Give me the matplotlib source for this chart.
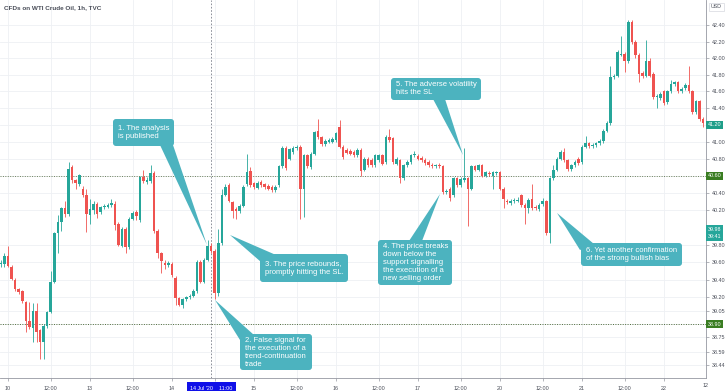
import numpy as np
import matplotlib
matplotlib.use('Agg')
import matplotlib.pyplot as plt
import matplotlib.transforms as mtransforms
from matplotlib.patches import FancyBboxPatch, Polygon
from matplotlib.ticker import FixedLocator, FixedFormatter, NullLocator

plt.rcParams['font.family'] = ['Liberation Sans', 'DejaVu Sans']

# WTI 1h candles, bar 0 = 10 Jul 00:00, 23 bars per trading day
bar_index = list(range(-2, 196))
opens = [39.58, 39.58, 39.67, 39.55, 39.40, 39.29, 39.27, 39.15, 38.93, 38.86,
         39.05, 38.83, 38.70, 38.88, 39.04, 39.38, 39.93, 40.06, 40.22, 40.15,
         40.70, 40.55, 40.50, 40.45, 40.38, 40.14, 40.20, 40.27, 40.18, 40.23,
         40.24, 40.26, 40.27, 40.04, 39.79, 39.98, 39.77, 40.10, 40.18, 40.08,
         40.58, 40.53, 40.54, 40.63, 39.96, 39.70, 39.59, 39.57, 39.58, 39.42,
         39.19, 39.11, 39.18, 39.20, 39.22, 39.27, 39.60, 39.38, 39.63, 39.78,
         39.73, 39.25, 39.82, 40.38, 40.49, 40.29, 40.21, 40.19, 40.25, 40.50,
         40.65, 40.51, 40.46, 40.53, 40.50, 40.48, 40.47, 40.43, 40.49, 40.71,
         40.93, 40.80, 40.88, 40.92, 40.94, 40.45, 40.84, 40.70, 40.86, 41.13,
         41.05, 40.97, 41.00, 41.00, 41.02, 41.18, 40.94, 40.90, 40.89, 40.88,
         40.84, 40.90, 40.67, 40.80, 40.79, 40.72, 40.78, 40.84, 40.76, 41.06,
         41.04, 40.74, 40.78, 40.57, 40.72, 40.76, 40.84, 40.83, 40.81, 40.79,
         40.76, 40.73, 40.71, 40.73, 40.71, 40.41, 40.45, 40.37, 40.57, 40.49,
         40.55, 40.57, 40.45, 40.71, 40.67, 40.72, 40.60, 40.63, 40.60, 40.63,
         40.64, 40.45, 40.31, 40.28, 40.30, 40.31, 40.37, 40.26, 40.22, 40.33,
         40.24, 40.21, 40.27, 40.30, 39.93, 40.57, 40.67, 40.80, 40.88, 40.78,
         40.68, 40.72, 40.80, 40.76, 40.94, 40.98, 40.95, 40.96, 40.98, 41.01,
         41.13, 41.22, 41.77, 41.79, 42.04, 42.05, 41.96, 42.44, 42.20, 42.04,
         41.82, 41.79, 41.97, 41.81, 41.53, 41.52, 41.60, 41.47, 41.60, 41.69,
         41.71, 41.60, 41.64, 41.68, 41.60, 41.35, 41.48, 41.27]
highs = [39.62, 39.70, 39.78, 39.57, 39.42, 39.31, 39.28, 39.16, 39.15, 39.14,
         39.14, 38.85, 38.90, 39.05, 39.50, 39.95, 40.14, 40.24, 40.31, 40.76,
         40.73, 40.56, 40.62, 40.48, 40.45, 40.33, 40.30, 40.29, 40.25, 40.27,
         40.28, 40.33, 40.30, 40.06, 40.00, 40.00, 40.12, 40.19, 40.20, 40.60,
         40.67, 40.58, 40.72, 40.66, 39.98, 39.72, 39.62, 39.61, 39.60, 39.44,
         39.21, 39.19, 39.22, 39.24, 39.29, 39.62, 39.62, 39.65, 39.86, 39.82,
         39.75, 39.98, 40.45, 40.50, 40.51, 40.31, 40.23, 40.27, 40.49, 40.86,
         40.70, 40.53, 40.54, 40.55, 40.52, 40.50, 40.49, 40.49, 40.73, 40.95,
         40.95, 40.93, 40.95, 40.96, 40.96, 40.86, 40.86, 40.88, 41.13, 41.27,
         41.07, 41.03, 41.04, 41.05, 41.12, 41.26, 40.96, 40.92, 40.91, 40.90,
         40.92, 40.92, 40.82, 40.82, 40.81, 40.86, 40.86, 40.86, 41.08, 41.15,
         41.06, 40.82, 40.80, 40.74, 40.78, 40.86, 40.89, 40.85, 40.83, 40.81,
         40.78, 40.75, 40.74, 40.75, 40.73, 40.44, 40.47, 40.59, 40.59, 40.58,
         40.92, 40.59, 40.73, 40.73, 40.74, 40.74, 40.66, 40.65, 40.66, 40.66,
         40.66, 40.47, 40.33, 40.33, 40.34, 40.35, 40.39, 40.28, 40.34, 40.50,
         40.26, 40.28, 40.34, 40.32, 40.59, 40.72, 40.82, 40.90, 40.92, 40.80,
         40.74, 40.78, 40.82, 40.96, 41.07, 41.00, 40.98, 41.00, 41.03, 41.15,
         41.24, 41.90, 41.81, 42.10, 42.27, 42.07, 42.46, 42.47, 42.22, 42.06,
         41.84, 42.22, 42.00, 41.83, 41.57, 41.59, 41.62, 41.62, 41.74, 41.73,
         41.73, 41.65, 41.70, 41.90, 41.62, 41.50, 41.50, 41.29]
lows = [39.54, 39.55, 39.54, 39.40, 39.27, 39.24, 39.14, 38.81, 38.84, 38.70,
        38.70, 38.51, 38.51, 38.86, 39.02, 39.36, 39.70, 39.96, 40.12, 40.13,
        40.52, 40.45, 40.48, 40.35, 39.95, 40.04, 40.15, 40.11, 40.15, 40.21,
        40.22, 40.24, 39.97, 39.78, 39.77, 39.71, 39.75, 40.08, 40.08, 40.06,
        40.52, 40.50, 40.52, 39.94, 39.65, 39.48, 39.52, 39.55, 39.43, 39.11,
        39.10, 39.08, 39.16, 39.18, 39.20, 39.25, 39.36, 39.36, 39.61, 39.70,
        39.18, 39.22, 39.80, 40.36, 40.29, 40.11, 40.10, 40.17, 40.23, 40.48,
        40.47, 40.45, 40.44, 40.47, 40.45, 40.43, 40.41, 40.41, 40.47, 40.69,
        40.67, 40.78, 40.86, 40.90, 40.10, 40.12, 40.69, 40.68, 40.84, 41.03,
        40.95, 40.95, 40.98, 40.98, 41.00, 40.92, 40.80, 40.85, 40.84, 40.82,
        40.82, 40.60, 40.65, 40.70, 40.70, 40.70, 40.76, 40.72, 40.74, 41.00,
        40.74, 40.72, 40.52, 40.55, 40.70, 40.74, 40.82, 40.78, 40.76, 40.73,
        40.70, 40.69, 40.69, 40.69, 40.39, 40.39, 40.31, 40.35, 40.47, 40.47,
        40.53, 40.02, 40.43, 40.65, 40.65, 40.58, 40.58, 40.60, 40.45, 40.61,
        40.43, 40.22, 40.27, 40.26, 40.28, 40.29, 40.24, 40.04, 40.17, 40.20,
        40.20, 40.19, 40.25, 39.91, 39.82, 40.55, 40.65, 40.78, 40.76, 40.66,
        40.66, 40.70, 40.73, 40.74, 40.92, 40.93, 40.93, 40.94, 40.96, 40.99,
        41.11, 41.20, 41.75, 41.77, 42.02, 41.83, 41.94, 42.17, 42.00, 41.71,
        41.76, 41.77, 41.77, 41.51, 41.40, 41.50, 41.44, 41.45, 41.58, 41.67,
        41.58, 41.58, 41.62, 41.58, 41.33, 41.33, 41.25, 41.18]
closes = [39.59, 39.67, 39.56, 39.41, 39.29, 39.26, 39.16, 38.93, 38.87, 39.05,
          38.81, 38.70, 38.88, 39.04, 39.38, 39.93, 40.06, 40.22, 40.15, 40.68,
          40.55, 40.51, 40.61, 40.38, 40.16, 40.21, 40.27, 40.15, 40.23, 40.25,
          40.26, 40.28, 40.03, 39.80, 39.98, 39.77, 40.10, 40.17, 40.13, 40.58,
          40.54, 40.55, 40.63, 39.96, 39.71, 39.61, 39.57, 39.59, 39.45, 39.19,
          39.12, 39.18, 39.20, 39.22, 39.27, 39.60, 39.38, 39.63, 39.78, 39.73,
          39.25, 39.82, 40.38, 40.47, 40.31, 40.19, 40.19, 40.25, 40.47, 40.64,
          40.49, 40.47, 40.52, 40.49, 40.47, 40.45, 40.43, 40.47, 40.71, 40.93,
          40.69, 40.91, 40.93, 40.94, 40.45, 40.84, 40.71, 40.86, 41.11, 41.05,
          40.97, 41.01, 41.02, 41.03, 41.10, 40.94, 40.82, 40.87, 40.86, 40.84,
          40.90, 40.65, 40.80, 40.72, 40.72, 40.84, 40.84, 40.74, 41.06, 41.02,
          40.76, 40.80, 40.57, 40.72, 40.76, 40.84, 40.85, 40.80, 40.78, 40.75,
          40.72, 40.71, 40.72, 40.71, 40.41, 40.42, 40.34, 40.57, 40.49, 40.56,
          40.57, 40.45, 40.71, 40.67, 40.72, 40.60, 40.64, 40.62, 40.64, 40.64,
          40.45, 40.33, 40.29, 40.31, 40.32, 40.32, 40.26, 40.22, 40.32, 40.22,
          40.22, 40.26, 40.30, 39.93, 40.57, 40.67, 40.80, 40.88, 40.78, 40.68,
          40.72, 40.76, 40.75, 40.94, 40.98, 40.95, 40.96, 40.98, 41.01, 41.13,
          41.22, 41.77, 41.79, 42.07, 42.05, 41.97, 42.44, 42.19, 42.04, 41.81,
          41.78, 41.97, 41.79, 41.53, 41.55, 41.57, 41.46, 41.60, 41.69, 41.71,
          41.60, 41.63, 41.68, 41.60, 41.35, 41.48, 41.27, 41.22]

price_ticks = [42.40, 42.20, 42.00, 41.80, 41.60, 41.40, 41.20, 41.00, 40.80,
               40.60, 40.40, 40.20, 39.80, 39.60, 39.40, 39.20, 39.05, 38.90,
               38.75, 38.59, 38.44]
price_labels = ['42.40', '42.20', '42.00', '41.80', '41.60', '41.40', '', '41.00',
                '40.80', '', '40.40', '40.20', '39.80', '39.60', '39.40', '39.20',
                '39.05', '', '38.75', '38.59', '38.44']
time_ticks = [0, 12, 23, 35, 46, 58, 69, 81, 92, 104, 115, 127, 138, 150, 161,
              173, 184]
time_labels = ['10', '12:00', '13', '12:00', '14', '', '15', '12:00', '16',
               '12:00', '17', '12:00', '20', '12:00', '21', '12:00', '22']

support_level = 38.90
resistance_level = 40.60
analysis_bar = 57

# price tags on the right scale: value, text, colour
price_tags = [(41.20, '41.20', '#1f9e89'), (40.60, '40.60', '#3a7d22'),
              (39.98, '39.98', '#26a69a'), (39.895, '39:41', '#26a69a'),
              (38.90, '38.90', '#3a7d22')]

W, H = 728, 391
fig = plt.figure(figsize=(W / 100, H / 100), dpi=100)
fig.patch.set_facecolor('white')
ax = fig.add_axes([0, 13 / H, 706 / W, 378 / H])

# Kerzen
up_col, down_col = '#26a69a', '#ef5350'
x = np.array(bar_index)
o, h, l, c = map(np.array, (opens, highs, lows, closes))
cols = np.where(c >= o, up_col, down_col)
ax.vlines(x, l, h, colors=cols, linewidth=0.6, zorder=3)
body = np.maximum(np.abs(c - o), 0.008)
ax.bar(x, body, bottom=np.minimum(o, c), width=0.72, color=cols,
       linewidth=0, zorder=4)

ax.set_yscale('log')
ax.set_ylim(38.30, 42.71)
ax.set_xlim(-2.24, 195.8)
ax.yaxis.set_major_locator(FixedLocator(price_ticks))
ax.yaxis.set_major_formatter(FixedFormatter(price_labels))
ax.yaxis.set_minor_locator(NullLocator())
ax.yaxis.tick_right()
ax.xaxis.set_major_locator(FixedLocator(time_ticks))
ax.xaxis.set_major_formatter(FixedFormatter(time_labels))
ax.tick_params(axis='both', labelsize=3.9, colors='#9598a1', labelcolor='#4a4e59',
               length=2, width=0.5, pad=2)
ax.tick_params(axis='x', pad=4)
ax.grid(True, color='#eef0f4', linewidth=0.6, zorder=0)
for s in ('top', 'left'):
    ax.spines[s].set_visible(False)
for s in ('right', 'bottom'):
    ax.spines[s].set_color('#9598a1')
    ax.spines[s].set_linewidth(0.6)

# Levels
ax.axhline(resistance_level, color='#6b7f5a', linestyle=(0, (1, 1.5)),
           linewidth=0.7, zorder=2)
ax.axhline(support_level, color='#4f6b3a', linestyle=(0, (1, 1.5)),
           linewidth=0.7, zorder=2)
ax.axvline(analysis_bar, color='#7b7f8a', linestyle=(0, (2, 2)),
           linewidth=0.6, zorder=2)

blend_y = mtransforms.blended_transform_factory(ax.transAxes, ax.transData)
for val, txt, col in price_tags:
    ax.text(1.003, val, txt, transform=blend_y, fontsize=3.9, color='white',
            ha='left', va='center', clip_on=False, zorder=10,
            bbox=dict(boxstyle='square,pad=0.3', facecolor=col, edgecolor='none'))

blend_x = mtransforms.blended_transform_factory(ax.transData, ax.transAxes)
ax.text(analysis_bar, -0.02, "14 Jul '20    11:00", transform=blend_x,
        fontsize=3.9, color='white', ha='center', va='top', clip_on=False,
        zorder=10, bbox=dict(boxstyle='square,pad=0.6', facecolor='#1010e8',
                             edgecolor='none'))

# Overlay in Pixel-Koordinaten fuer Beschriftungen
ov = fig.add_axes([0, 0, 1, 1], zorder=5)
ov.set_xlim(0, W)
ov.set_ylim(H, 0)
ov.axis('off')
ov.patch.set_alpha(0)

ov.text(4, 7.5, 'CFDs on WTI Crude Oil, 1h, TVC', fontsize=4.6, weight='bold',
        color='#4a4e59', ha='left', va='center')
ov.text(716.5, 7, 'USD', fontsize=3.8, color='#4a4e59', ha='center', va='center',
        bbox=dict(boxstyle='square,pad=0.3', facecolor='white',
                  edgecolor='#d6d8de', linewidth=0.5))
ov.text(703, 385.5, '12', fontsize=3.9, color='#4a4e59', ha='left', va='center')

teal = '#4cb3bf'
callouts = [
    ('1. The analysis\nis published', (113, 119, 174, 146),
     [(160, 145), (173, 145)], (207, 245)),
    ('2. False signal for\nthe execution of a\ntrend-continuation\ntrade',
     (240, 334, 312, 370), [(240, 340), (254, 335)], (215, 300)),
    ('3. The price rebounds,\npromptly hitting the SL.', (260, 254, 348, 282),
     [(261, 262), (276, 255)], (230, 235)),
    ('4. The price breaks\ndown below the\nsupport signalling\nthe execution of a\nnew selling order',
     (378, 240, 452, 285), [(409, 241), (422, 241)], (440, 194)),
    ('5. The adverse volatility\nhits the SL', (391, 78, 481, 100),
     [(433, 99), (445, 99)], (463, 155)),
    ('6. Yet another confirmation\nof the strong bullish bias',
     (581, 243, 682, 266), [(580, 250), (594, 244)], (557, 213)),
]
for txt, (x0, y0, x1, y1), base, tip in callouts:
    ov.add_patch(Polygon([base[0], base[1], tip], closed=True, facecolor=teal,
                         edgecolor='none'))
    ov.add_patch(FancyBboxPatch((x0 + 2, y0 + 2), x1 - x0 - 4, y1 - y0 - 4,
                                boxstyle='round,pad=2,rounding_size=3',
                                facecolor=teal, edgecolor='none'))
    ov.text(x0 + 5, (y0 + y1) / 2, txt, fontsize=5.5, color='white',
            ha='left', va='center', linespacing=1.2)

fig.savefig('out.png', dpi=100, facecolor='white')
